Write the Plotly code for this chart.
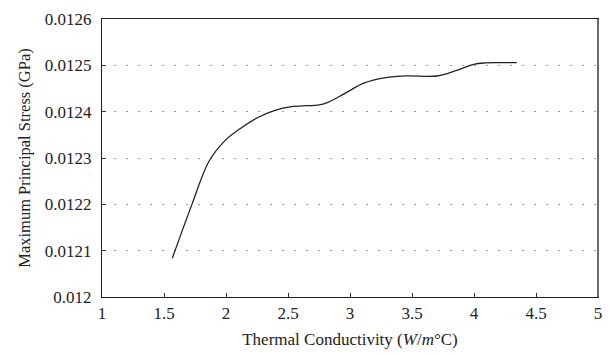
import plotly.graph_objects as go

conductivity = [1.567, 1.727, 1.861, 1.994, 2.128, 2.261, 2.395, 2.528, 2.65, 2.742,
                2.822, 2.956, 3.116, 3.276, 3.463, 3.62, 3.703, 3.784, 3.890, 3.998, 4.078, 4.2, 4.345]
stress = [0.0120838, 0.0122010, 0.0122920, 0.0123380, 0.0123660, 0.0123880,
          0.0124030, 0.0124110, 0.0124130, 0.0124140, 0.0124200, 0.0124390, 0.0124620, 0.0124730,
          0.0124772, 0.0124762, 0.0124770, 0.0124820, 0.0124920, 0.0125020, 0.0125050, 0.0125058,
          0.0125060]

y_ticks = [0.012, 0.0121, 0.0122, 0.0123, 0.0124, 0.0125, 0.0126]
y_labels = ["0.012", "0.0121", "0.0122", "0.0123", "0.0124", "0.0125", "0.0126"]
x_ticks = [1, 1.5, 2, 2.5, 3, 3.5, 4, 4.5, 5]
x_labels = ["1", "1.5", "2", "2.5", "3", "3.5", "4", "4.5", "5"]

font_family = "Liberation Serif"

fig = go.Figure()
fig.add_trace(go.Scatter(x=conductivity, y=stress, mode="lines",
                         line=dict(color="#222222", width=1.3, shape="spline", smoothing=1.0),
                         showlegend=False, hoverinfo="skip"))

fig.update_layout(
    width=612, height=355,
    margin=dict(l=102, r=10, t=16, b=58),
    paper_bgcolor="white", plot_bgcolor="white",
    font=dict(family=font_family, size=17, color="#222222"),
    xaxis=dict(range=[1, 5], tickvals=x_ticks, ticktext=x_labels,
               ticks="inside", ticklen=4, tickcolor="#333333",
               tickfont=dict(size=17), ticklabelstandoff=0,
               showline=True, linecolor="#222222", linewidth=1.2, mirror=True,
               showgrid=False, zeroline=False,
               title=dict(text="Thermal Conductivity (<i>W</i>/<i>m</i>°C)", standoff=11,
                          font=dict(family=font_family, size=17))),
    yaxis=dict(range=[0.012, 0.0126], tickvals=y_ticks, ticktext=y_labels,
               ticks="inside", ticklen=4, tickcolor="#333333",
               tickfont=dict(size=17), ticklabelstandoff=6,
               showline=True, linecolor="#222222", linewidth=1.2, mirror=True,
               showgrid=True, gridcolor="#9a9a9a", gridwidth=1.2, griddash="1.5px,10.5px",
               zeroline=False,
               title=dict(text="Maximum Principal Stress (GPa)", standoff=9,
                          font=dict(family=font_family, size=16.5))),
)

fig.add_shape(type="line", xref="paper", yref="paper", x0=1, x1=1, y0=0, y1=1,
              line=dict(color="#6a6a6a", width=2))

fig.write_html("out.html")
